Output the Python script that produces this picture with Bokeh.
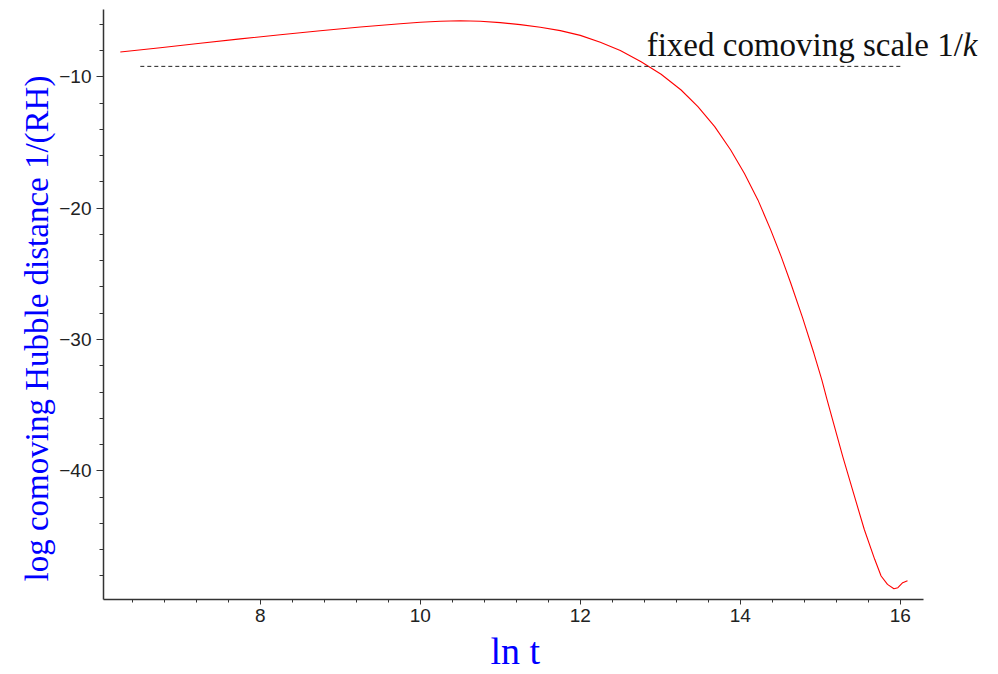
import math
from bokeh.plotting import figure
from bokeh.models import Range1d, FixedTicker, Label, Title
from bokeh.embed import file_html
from bokeh.resources import INLINE

# ---- data ----
ln_t = [6.25, 6.75, 7.25, 7.75, 8.25, 8.75, 9.25, 9.75, 10.0, 10.25, 10.5, 10.75,
        11.0, 11.25, 11.5, 11.75, 12.0, 12.25, 12.5, 12.76, 13.01, 13.26, 13.47,
        13.68, 13.88, 14.05, 14.22, 14.38, 14.51, 14.63, 14.78, 14.92, 15.02, 15.08,
        15.28, 15.42, 15.55, 15.68, 15.76, 15.84, 15.92, 15.97, 16.03, 16.09]
log_hubble = [-8.11, -7.78, -7.44, -7.11, -6.79, -6.49, -6.20, -5.95, -5.84, -5.76,
              -5.73, -5.76, -5.87, -6.02, -6.22, -6.48, -6.84, -7.37, -7.99, -8.85,
              -9.8, -11.0, -12.27, -13.79, -15.57, -17.34, -19.37, -21.65, -23.67,
              -25.70, -28.37, -31.05, -33.1, -34.48, -38.9, -41.8, -44.47, -46.74,
              -48.01, -48.65, -48.98, -48.9, -48.52, -48.37]

scale_x = [6.5, 16.0]
scale_y = [-9.2, -9.2]

x_major = [8, 10, 12, 14, 16]
x_minor = [6.4, 6.8, 7.2, 7.6, 8.4, 8.8, 9.2, 9.6, 10.4, 10.8, 11.2, 11.6,
           12.4, 12.8, 13.2, 13.6, 14.4, 14.8, 15.2, 15.6]
y_major = [-10, -20, -30, -40]
y_minor = [-6, -8, -12, -14, -16, -18, -22, -24, -26, -28, -32, -34, -36, -38,
           -42, -44, -46, -48]
y_labels = {-10: "\u221210", -20: "\u221220", -30: "\u221230", -40: "\u221240"}

x_lo, x_hi = 6.04, 16.29

p = figure(width=990, height=674, output_backend="svg", toolbar_location=None,
           x_range=Range1d(x_lo, 17.065), y_range=Range1d(-49.8, -4.87),
           min_border_left=103, min_border_right=5, min_border_top=9,
           min_border_bottom=74)
p.outline_line_color = None
p.xgrid.grid_line_color = None
p.ygrid.grid_line_color = None
p.background_fill_color = "white"
p.border_fill_color = "white"

p.line(ln_t, log_hubble, line_color="#ff0000", line_width=1.1)
p.line(scale_x, scale_y, line_color="#222222", line_width=1, line_dash="4 3")

p.xaxis.ticker = FixedTicker(ticks=x_major, minor_ticks=x_minor)
p.xaxis.bounds = (x_lo, x_hi)
p.yaxis.ticker = FixedTicker(ticks=y_major, minor_ticks=y_minor)
p.yaxis.major_label_overrides = y_labels

for ax in (p.xaxis, p.yaxis):
    ax.axis_line_color = "#333333"
    ax.axis_line_width = 1.5
    ax.major_tick_line_color = "#333333"
    ax.minor_tick_line_color = "#333333"
    ax.major_tick_in = 0
    ax.minor_tick_in = 0
    ax.major_label_text_font = "Liberation Sans"
    ax.major_label_text_font_size = "19px"
    ax.major_label_text_color = "#222222"
p.xaxis.major_tick_out = 5
p.xaxis.minor_tick_out = 3
p.xaxis.major_label_standoff = 4
p.yaxis.major_tick_out = 7
p.yaxis.minor_tick_out = 4
p.yaxis.major_label_standoff = 5

serif = "Liberation Serif"
blue = "#0000ff"

# annotation near the dashed line
ann_y = -7.55
p.add_layout(Label(x=12.83, y=ann_y, text="fixed comoving scale 1/", text_font=serif,
                   text_font_size="33px", text_color="#111111",
                   text_baseline="alphabetic", text_align="left"))
p.add_layout(Label(x=16.78, y=ann_y, text="k", text_font=serif, text_font_style="italic",
                   text_font_size="33px", text_color="#111111",
                   text_baseline="alphabetic", text_align="left"))

# axis titles
p.add_layout(Title(text="ln t", align="left", offset=387, standoff=6,
                   text_font=serif, text_font_size="38px", text_color=blue,
                   text_font_style="normal"), "below")
p.add_layout(Title(text="log comoving Hubble distance 1/(RH)", align="left", offset=18,
                   standoff=4, text_font=serif, text_font_size="33px",
                   text_color=blue, text_font_style="normal"), "left")

open("out.html", "w").write(file_html(p, INLINE))
